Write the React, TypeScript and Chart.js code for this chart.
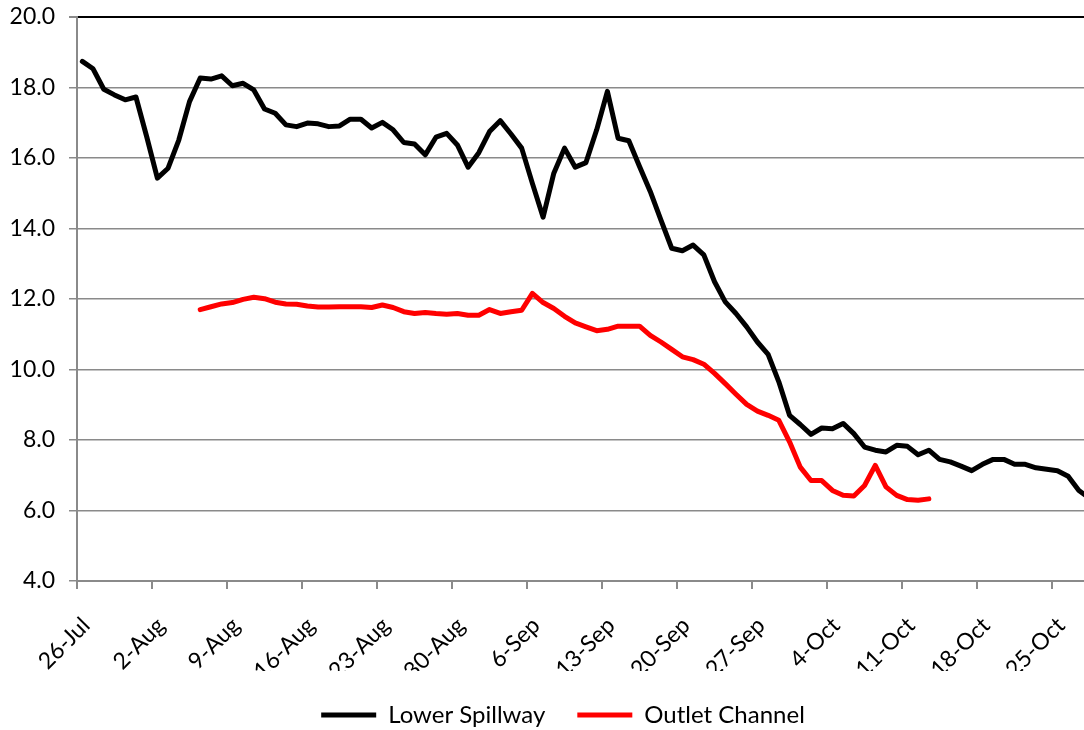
import React, { useEffect, useRef } from 'react';
import { Chart, registerables } from 'chart.js';
Chart.register(...registerables);

// Tick labels, one every 7 days starting 26-Jul
const tickLabels = ['26-Jul', '2-Aug', '9-Aug', '16-Aug', '23-Aug', '30-Aug', '6-Sep', '13-Sep', '20-Sep', '27-Sep', '4-Oct', '11-Oct', '18-Oct', '25-Oct'];

// Daily readings (day 0 = 26-Jul), taken mid-day
const lowerSpillway = [
  18.74, 18.53, 17.95, 17.79, 17.65, 17.73, 16.61, 15.43, 15.71, 16.51,
  17.60, 18.27, 18.24, 18.33, 18.05, 18.12, 17.93, 17.39, 17.27, 16.94,
  16.89, 16.99, 16.97, 16.89, 16.91, 17.10, 17.10, 16.85, 17.01, 16.80,
  16.44, 16.40, 16.09, 16.59, 16.70, 16.37, 15.74, 16.15, 16.75, 17.06,
  16.68, 16.28, 15.28, 14.32, 15.57, 16.28, 15.74, 15.87, 16.80, 17.89,
  16.56, 16.49, 15.76, 15.05, 14.24, 13.44, 13.37, 13.53, 13.25, 12.49,
  11.92, 11.59, 11.21, 10.78, 10.43, 9.65, 8.70, 8.44, 8.16, 8.34,
  8.32, 8.47, 8.18, 7.80, 7.71, 7.66, 7.85, 7.82, 7.58, 7.71,
  7.45, 7.38, 7.26, 7.13, 7.31, 7.45, 7.45, 7.31, 7.31, 7.21,
  7.17, 7.13, 6.97, 6.57, 6.35,
];

const outletStartDay = 11; // 6-Aug
const outletChannel = [
  11.70, 11.78, 11.86, 11.90, 11.99, 12.05, 12.01, 11.91, 11.86, 11.85,
  11.80, 11.77, 11.77, 11.78, 11.78, 11.78, 11.76, 11.83, 11.76, 11.64,
  11.59, 11.62, 11.59, 11.57, 11.59, 11.54, 11.54, 11.70, 11.59, 11.64,
  11.68, 12.16, 11.90, 11.73, 11.51, 11.32, 11.21, 11.10, 11.14, 11.23,
  11.23, 11.23, 10.97, 10.78, 10.57, 10.36, 10.28, 10.15, 9.89, 9.60,
  9.30, 9.01, 8.82, 8.70, 8.56, 7.95, 7.23, 6.85, 6.85, 6.57,
  6.43, 6.41, 6.71, 7.28, 6.67, 6.43, 6.31, 6.29, 6.33,
];

export default function App() {
  const ref = useRef<HTMLCanvasElement>(null);
  useEffect(() => {
    const canvas = ref.current;
    if (!canvas) return;
    const tickFont = { family: 'Lato', size: 23 };
    const legendFont = { family: 'Lato', size: 24 };
    const gridGray = '#8a8a8a';
    const chart = new Chart(canvas, {
      type: 'line',
      data: {
        datasets: [
          {
            label: 'Lower Spillway',
            data: lowerSpillway.map((y, i) => ({ x: i + 0.5, y })),
            borderColor: '#000000',
            backgroundColor: '#000000',
            borderWidth: 5,
            pointRadius: 0,
            borderCapStyle: 'round',
            borderJoinStyle: 'round',
            tension: 0,
          },
          {
            label: 'Outlet Channel',
            data: outletChannel.map((y, i) => ({ x: outletStartDay + i + 0.5, y })),
            borderColor: '#ff0000',
            backgroundColor: '#ff0000',
            borderWidth: 5,
            pointRadius: 0,
            borderCapStyle: 'round',
            borderJoinStyle: 'round',
            tension: 0,
          },
        ],
      },
      options: {
        animation: false,
        responsive: false,
        layout: { padding: { top: 17, left: 0, right: 0, bottom: 0 } },
        scales: {
          x: {
            type: 'linear',
            min: 0,
            max: 97.9,
            ticks: {
              stepSize: 7,
              includeBounds: false,
              autoSkip: false,
              minRotation: 45,
              maxRotation: 45,
              labelOffset: 9,
              padding: 23,
              font: tickFont,
              color: '#000000',
              callback: (v: any) => {
                const n = Number(v);
                if (n % 7 !== 0) return '';
                return tickLabels[n / 7] ?? '';
              },
            },
            grid: { drawOnChartArea: false, tickLength: 8, color: gridGray, lineWidth: 2 },
            border: { color: gridGray, width: 2 },
            afterFit: (s: any) => { s.height = 90; s.paddingLeft = 0; s.paddingRight = 0; },
          },
          y: {
            min: 4,
            max: 20,
            ticks: {
              stepSize: 2,
              font: tickFont,
              color: '#000000',
              padding: 14,
              callback: (v: any) => Number(v).toFixed(1),
            },
            grid: {
              color: (c: any) => (c.tick && c.tick.value === 20 ? '#000000' : gridGray),
              lineWidth: (c: any) => (c.tick && c.tick.value === 20 ? 2 : 1.5),
              tickLength: 8,
              tickColor: gridGray,
            },
            border: { color: gridGray, width: 2 },
            afterFit: (s: any) => { s.width = 77; s.paddingTop = 0; s.paddingBottom = 0; },
          },
        },
        plugins: {
          legend: {
            position: 'bottom',
            labels: {
              usePointStyle: true,
              pointStyle: 'line',
              pointStyleWidth: 55,
              font: legendFont,
              color: '#000000',
              padding: 32,
            },
          },
          tooltip: { enabled: false },
        },
      },
    });
    return () => chart.destroy();
  }, []);
  return (
    <div style={{ position: 'fixed', left: 0, top: 0, width: 1084, height: 730, overflow: 'hidden', background: '#ffffff' }}>
      <canvas ref={ref} width={1126} height={737} style={{ display: 'block', width: 1126, height: 737 }} />
    </div>
  );
}
